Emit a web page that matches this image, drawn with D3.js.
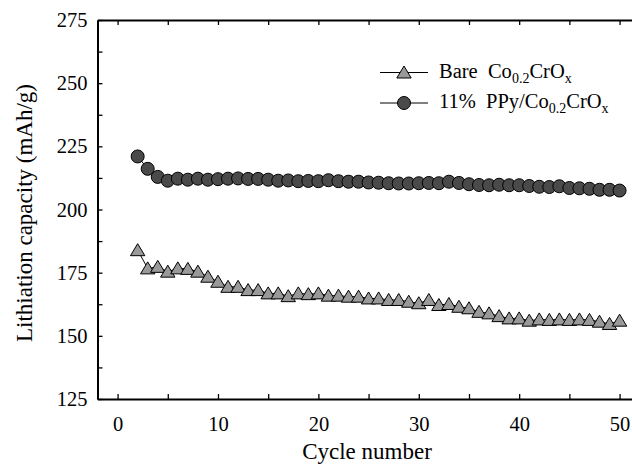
<!DOCTYPE html>
<html><head><meta charset="utf-8">
<script src="https://cdn.jsdelivr.net/npm/d3@7"></script>
<style>
html,body{margin:0;padding:0;background:#fff;}
svg{display:block;}
svg text{font-family:'Liberation Serif','Times New Roman',serif !important;fill:#000;}
</style></head>
<body>
<svg id="chart" width="632" height="464"></svg>
<script>
const cycles = [2,3,4,5,6,7,8,9,10,11,12,13,14,15,16,17,18,19,20,21,22,23,24,25,26,27,28,29,30,31,32,33,34,35,36,37,38,39,40,41,42,43,44,45,46,47,48,49,50];
const bareValues = [183.9,176.7,177.3,175.4,176.7,176.5,175.4,173.4,171.4,169.4,169.4,168.1,168.1,166.8,166.8,165.7,166.8,166.5,166.8,165.9,165.9,165.5,165.5,164.8,164.8,164.2,164.2,163.5,162.9,164.2,162.2,162.6,161.5,160.9,159.5,158.9,157.8,156.9,156.9,156.0,156.5,156.3,156.5,156.3,156.5,156.3,155.6,154.7,156.0];
const ppyValues = [221.0,216.1,212.9,211.4,212.2,211.8,212.2,211.8,212.0,212.2,212.3,212.1,212.1,211.8,211.4,211.5,211.2,211.3,211.2,211.6,211.2,211.0,211.0,210.7,210.6,210.4,210.3,210.3,210.4,210.5,210.4,211.0,210.5,210.0,209.7,209.6,209.8,209.6,209.6,209.3,209.0,208.9,209.2,208.5,208.4,208.2,207.8,207.8,207.5];
const xTickLabels = [0,10,20,30,40,50];
const yTickLabels = [125,150,175,200,225,250,275];
const seriesNames = ["Bare", "11%"];

const svg = d3.select("#chart");
const x = d3.scaleLinear().domain([-2, 52]).range([97.5, 97.5 + 54 * 10.04]);
const y = d3.scaleLinear().domain([125, 275]).range([399, 20]);

const xTicksAll = d3.range(0, 51, 5);
const yTicksAll = d3.range(125, 276, 12.5);

function styleAxis(g){
  g.attr("font-family", null);
  g.select(".domain").attr("stroke","#000").attr("stroke-width",2);
  g.selectAll(".tick line").attr("stroke","#000").attr("stroke-width",1.3);
  g.selectAll(".tick text").attr("font-size",20.5).attr("fill","#000");
}

// bottom axis
svg.append("g").attr("transform","translate(0,399)")
  .call(d3.axisBottom(x).tickValues(xTicksAll).tickSizeInner(-5).tickSizeOuter(0).tickPadding(17)
    .tickFormat(d => xTickLabels.includes(d) ? d : ""))
  .call(styleAxis);
// top axis
svg.append("g").attr("transform","translate(0,20)")
  .call(d3.axisTop(x).tickValues(xTicksAll).tickSizeInner(-5).tickSizeOuter(0).tickFormat(""))
  .call(styleAxis);
// left axis
svg.append("g").attr("transform","translate(97.5,0)")
  .call(d3.axisLeft(y).tickValues(yTicksAll).tickSizeInner(-5).tickSizeOuter(0).tickPadding(10)
    .tickFormat(d => yTickLabels.includes(d) ? d : ""))
  .call(styleAxis);

// axis titles
svg.append("text").attr("x", 367).attr("y", 459).attr("text-anchor","middle")
  .attr("font-size", 23).text("Cycle number");
svg.append("text").attr("transform","translate(32,213) rotate(-90)").attr("text-anchor","middle")
  .attr("font-size", 23).text("Lithiation capacity (mAh/g)");

const line = d3.line().x((d,i)=>x(cycles[i])).y(d=>y(d));
svg.append("path").datum(bareValues).attr("d",line).attr("fill","none").attr("stroke","#000").attr("stroke-width",1);
svg.append("path").datum(ppyValues).attr("d",line).attr("fill","none").attr("stroke","#000").attr("stroke-width",1);

const triPath = "M0,-6.5L7.2,5.5L-7.2,5.5Z";
svg.append("g").selectAll("path").data(bareValues).join("path")
  .attr("d", triPath)
  .attr("transform",(d,i)=>`translate(${x(cycles[i])},${y(d)})`)
  .attr("fill","#999999").attr("stroke","#000").attr("stroke-width",1);

svg.append("g").selectAll("circle").data(ppyValues).join("circle")
  .attr("cx",(d,i)=>x(cycles[i])).attr("cy",d=>y(d)).attr("r",6.5)
  .attr("fill","#4a4a4a").attr("stroke","#000").attr("stroke-width",1);

// legend
const lg = svg.append("g");
const rows = [{y:72.5, type:"tri"}, {y:103, type:"circ"}];
rows.forEach((r,i)=>{
  lg.append("line").attr("x1",380).attr("x2",428).attr("y1",r.y).attr("y2",r.y).attr("stroke","#000").attr("stroke-width",1);
  if(r.type==="tri"){
    lg.append("path").attr("d",triPath).attr("transform",`translate(404,${r.y})`).attr("fill","#999999").attr("stroke","#000");
  } else {
    lg.append("circle").attr("cx",404).attr("cy",r.y).attr("r",6.5).attr("fill","#4a4a4a").attr("stroke","#000");
  }
});
function legendText(yb, prefix){
  const t = lg.append("text").attr("x",439).attr("y",yb).attr("font-size",20.5).attr("xml:space","preserve");
  t.append("tspan").text(prefix + "Co");
  t.append("tspan").attr("font-size",14).attr("dy",5).text("0.2");
  t.append("tspan").attr("dy",-5).text("CrO");
  t.append("tspan").attr("font-size",14).attr("dy",5).text("x");
}
legendText(77.5, seriesNames[0] + "  ");
legendText(108, seriesNames[1] + "  PPy/");
</script>
</body></html>
